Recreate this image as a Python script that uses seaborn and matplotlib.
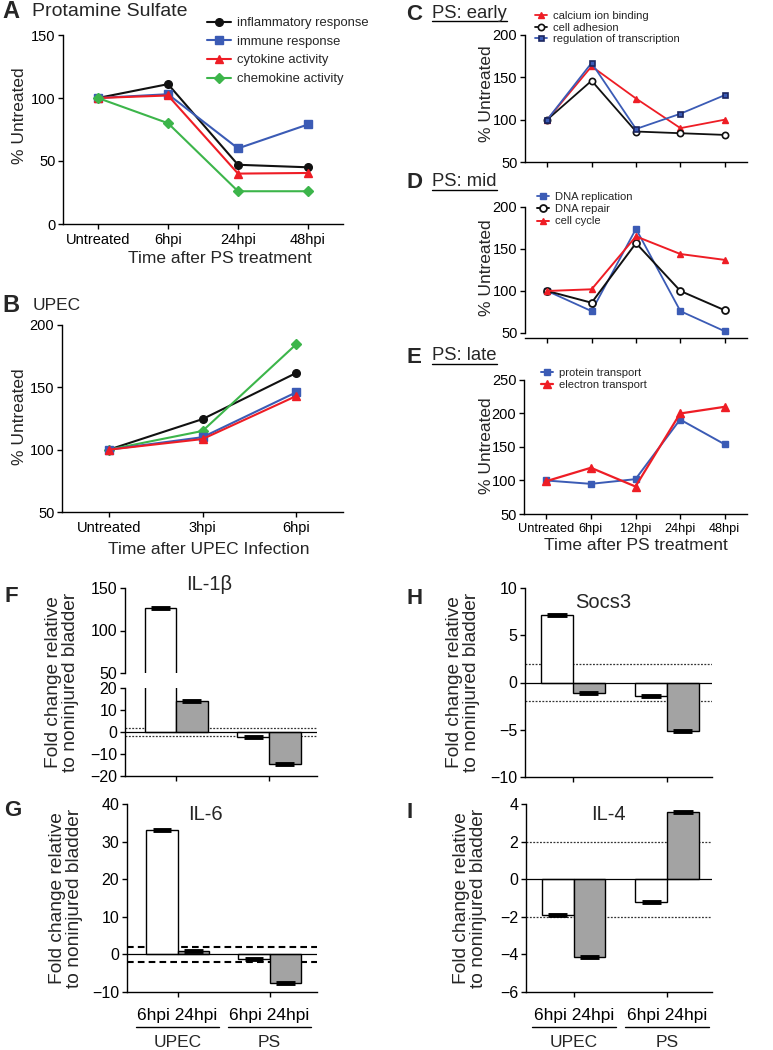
import matplotlib
matplotlib.use("Agg")
import matplotlib.pyplot as plt
from matplotlib.lines import Line2D
import seaborn as sns
import pandas as pd
import numpy as np

sns.set_theme(style="ticks")
plt.rcParams["font.family"] = ["Liberation Sans", "DejaVu Sans"]
plt.rcParams["axes.linewidth"] = 1.0
plt.rcParams["xtick.major.width"] = 1.0
plt.rcParams["ytick.major.width"] = 1.0
plt.rcParams["xtick.major.size"] = 3.5
plt.rcParams["ytick.major.size"] = 3.5
plt.rcParams["axes.edgecolor"] = "black"
plt.rcParams["xtick.color"] = "black"
plt.rcParams["ytick.color"] = "black"

# ---- data -------------------------------------------------------------
ps_times = ["Untreated", "6hpi", "24hpi", "48hpi"]
upec_times = ["Untreated", "3hpi", "6hpi"]
ps5_times = ["Untreated", "6hpi", "12hpi", "24hpi", "48hpi"]

inflam_ps = [100, 111, 47, 45]
immune_ps = [100, 103, 60, 79]
cytokine_ps = [100, 102, 40, 40.5]
chemokine_ps = [100, 80, 26, 26]

inflam_upec = [100, 124.5, 161.5]
immune_upec = [100, 110, 146]
cytokine_upec = [100, 108.5, 143]
chemokine_upec = [100, 115, 184.5]

calcium = [100, 163, 125, 90, 100]
adhesion = [100, 146, 86, 84, 82]
transcription = [100, 167, 89, 107, 129]

dna_rep = [100, 76, 174, 76, 52]
dna_repair = [100, 86, 157, 100, 77]
cell_cycle = [100, 102, 165, 144, 137]

protein_tr = [100, 95, 102, 191, 154]
electron_tr = [99, 119, 91, 200, 210]

groups = ["UPEC", "PS"]
hpi = ["6hpi", "24hpi"]
# order: UPEC 6hpi, UPEC 24hpi, PS 6hpi, PS 24hpi
il1b = [127, 14.2, -2.4, -14.5]
il6 = [33.2, 0.9, -1.2, -7.7]
socs3 = [7.1, -1.1, -1.45, -5.1]
il4 = [-1.9, -4.15, -1.23, 3.6]

BLACK, BLUE, RED, GREEN = "#111111", "#3b5bb5", "#ee1d25", "#3cb54a"
NAVY = "#1b2660"
GREY = "#a3a3a3"

W, H = 773, 1050
fig = plt.figure(figsize=(W / 100, H / 100), dpi=100)


def box(x0, y0, x1, y1):
    return [x0 / W, 1 - y1 / H, (x1 - x0) / W, (y1 - y0) / H]


def ftext(x, y, s, size, **kw):
    kw.setdefault("va", "center")
    return fig.text(x / W, 1 - y / H, s, fontsize=size, **kw)


def series(ax, ys, color, marker, ms, label, lw=1.5, mfc=None, mec=None, mew=1.0):
    sns.lineplot(x=np.arange(len(ys)), y=ys, ax=ax, color=color, marker=marker,
                 markersize=ms, linewidth=lw, markerfacecolor=mfc or color,
                 markeredgecolor=mec or color, markeredgewidth=mew,
                 label=label, legend=False, errorbar=None, zorder=3)


def line_axes(ax, labels, show_labels, ylim, yticks, xsize=10.5):
    ax.set_xlim(-0.5, len(labels) - 0.5)
    ax.set_ylim(*ylim)
    ax.set_yticks(yticks)
    ax.set_xticks(range(len(labels)))
    ax.set_xticklabels(labels if show_labels else [])
    ax.set_xlabel("")
    ax.set_ylabel("")
    ax.tick_params(axis="y", labelsize=10.5, pad=2)
    ax.tick_params(axis="x", labelsize=xsize, pad=3)
    sns.despine(ax=ax)


def legend(ax, x, y, size, hl, spacing):
    ax.legend(loc="upper left", bbox_to_anchor=(x / W, 1 - y / H),
              bbox_transform=fig.transFigure, frameon=False, fontsize=size,
              handlelength=hl, handletextpad=0.5, labelspacing=spacing,
              borderpad=0, borderaxespad=0)


# ---- A: protamine sulfate --------------------------------------------
ax_a = fig.add_axes(box(63, 35, 343, 224))
series(ax_a, inflam_ps, BLACK, "o", 5.5, "inflammatory response")
series(ax_a, immune_ps, BLUE, "s", 5.5, "immune response")
series(ax_a, cytokine_ps, RED, "^", 6, "cytokine activity")
series(ax_a, chemokine_ps, GREEN, "D", 5, "chemokine activity")
line_axes(ax_a, ps_times, True, (0, 150), [0, 50, 100, 150])
legend(ax_a, 207, 17, 9.4, 1.8, 0.5)

# ---- B: UPEC -----------------------------------------------------------
ax_b = fig.add_axes(box(62, 325, 343, 512))
series(ax_b, inflam_upec, BLACK, "o", 5.5, None)
series(ax_b, chemokine_upec, GREEN, "D", 5, None)
series(ax_b, immune_upec, BLUE, "s", 5.5, None)
series(ax_b, cytokine_upec, RED, "^", 6, None)
line_axes(ax_b, upec_times, True, (50, 200), [50, 100, 150, 200])

# ---- C: PS early ------------------------------------------------------
ax_c = fig.add_axes(box(525, 35, 747, 162))
series(ax_c, calcium, RED, "^", 4, "calcium ion binding", lw=1.3)
series(ax_c, adhesion, BLACK, "o", 4.5, "cell adhesion", lw=1.3, mfc="white", mew=1.2)
series(ax_c, transcription, BLUE, "s", 3.6, "regulation of transcription", lw=1.3,
       mfc=BLUE, mec=NAVY, mew=1.2)
line_axes(ax_c, ps5_times, False, (50, 200), [50, 100, 150, 200])
legend(ax_c, 535, 11, 8.1, 1.1, 0.15)

# ---- D: PS mid --------------------------------------------------------
ax_d = fig.add_axes(box(525, 207, 747, 338))
series(ax_d, dna_rep, BLUE, "s", 4, "DNA replication", lw=1.3)
series(ax_d, dna_repair, BLACK, "o", 5, "DNA repair", lw=1.4, mfc="white", mew=1.3)
series(ax_d, cell_cycle, RED, "^", 4, "cell cycle", lw=1.4)
line_axes(ax_d, ps5_times, False, (44, 200), [50, 100, 150, 200])
ax_d.spines["left"].set_bounds(50, 200)
legend(ax_d, 537, 192, 8.1, 1.1, 0.2)

# ---- E: PS late -------------------------------------------------------
ax_e = fig.add_axes(box(524, 380, 747, 514))
series(ax_e, protein_tr, BLUE, "s", 4, "protein transport", lw=1.4)
series(ax_e, electron_tr, RED, "^", 6, "electron transport", lw=1.6)
line_axes(ax_e, ps5_times, True, (50, 250), [50, 100, 150, 200, 250], xsize=9.2)
legend(ax_e, 541, 368, 8.1, 1.1, 0.2)

# ---- bar panels -------------------------------------------------------
bar_df = lambda vals: pd.DataFrame({"group": np.repeat(groups, len(hpi)),
                                    "time": hpi * len(groups), "fold": vals})


def bars(ax, vals, ylim, yticks, xlim, guide=None, zero=True):
    sns.barplot(data=bar_df(vals), x="group", y="fold", hue="time",
                palette=["white", GREY], width=0.68, edgecolor="black",
                linewidth=1.0, errorbar=None, legend=False, ax=ax, zorder=2)
    for p in ax.patches:
        end = p.get_y() + p.get_height()
        ax.hlines(end, p.get_x() + 0.2 * p.get_width(), p.get_x() + 0.8 * p.get_width(),
                  color="black", linewidth=3.5, zorder=4)
    if zero:
        ax.axhline(0, color="black", linewidth=0.9, zorder=3)
    if guide == "dot":
        for v in (2, -2):
            ax.axhline(v, color="#333333", linewidth=0.9, ls=(0, (1.5, 1.2)), zorder=1)
    elif guide == "dash":
        for v in (2, -2):
            ax.axhline(v, color="black", linewidth=1.5, ls=(0, (3.2, 2)), zorder=1)
    ax.set_xlim(*xlim)
    ax.set_ylim(*ylim)
    ax.set_yticks(yticks)
    ax.set_xticks(range(len(groups)))
    ax.set_xticklabels([])
    ax.set_xlabel("")
    ax.set_ylabel("")
    ax.tick_params(axis="y", labelsize=11.5, pad=2)
    sns.despine(ax=ax)


def group_labels(ax):
    ax.set_xticklabels([" ".join(hpi)] * len(groups))
    ax.tick_params(axis="x", labelsize=12.5, pad=8)
    tr = ax.get_xaxis_transform()
    for i, g in enumerate(groups):
        ax.plot([i - 0.45, i + 0.45], [-0.185, -0.185], color="black", lw=1.0,
                transform=tr, clip_on=False)
        ax.text(i, -0.27, g, transform=tr, ha="center", va="center", fontsize=12.5)


xl_left = (-0.55, 1.516)
xl_right = (-0.51, 1.48)

# F: IL-1b, broken axis
ax_f1 = fig.add_axes(box(125, 588, 317, 673))
bars(ax_f1, il1b, (50, 150), [50, 100, 150], xl_left, zero=False)
ax_f1.spines["bottom"].set_visible(False)
ax_f1.tick_params(axis="x", bottom=False)
ax_f2 = fig.add_axes(box(125, 688, 317, 776))
bars(ax_f2, il1b, (-20, 20), [-20, -10, 0, 10, 20], xl_left, guide="dot")

# G: IL-6
ax_g = fig.add_axes(box(127, 804, 317, 992))
bars(ax_g, il6, (-10, 40), [-10, 0, 10, 20, 30, 40], xl_left, guide="dash")
group_labels(ax_g)

# H: Socs3
ax_h = fig.add_axes(box(525, 588, 712, 777))
bars(ax_h, socs3, (-10, 10), [-10, -5, 0, 5, 10], xl_right, guide="dot")

# I: IL-4
ax_i = fig.add_axes(box(526, 804, 712, 992))
bars(ax_i, il4, (-6, 4), [-6, -4, -2, 0, 2, 4], xl_right, guide="dot")
group_labels(ax_i)

# ---- texts ------------------------------------------------------------
bold = dict(fontweight="bold")
ftext(2, 12, "A", 17, **bold)
ftext(32, 11, "Protamine Sulfate", 14)
ftext(2, 305, "B", 17, **bold)
ftext(33, 305, "UPEC", 12.5)
ftext(406, 14, "C", 16, **bold)
ftext(406, 183, "D", 16, **bold)
ftext(406, 357, "E", 16, **bold)
under = [ftext(432, 13, "PS: early", 13.3), ftext(432, 182, "PS: mid", 13.3),
         ftext(432, 356, "PS: late", 13.3)]

ftext(4, 597, "F", 16, **bold)
ftext(4, 810, "G", 16, **bold)
ftext(406, 598, "H", 16, **bold)
ftext(407, 813, "I", 16, **bold)

ftext(209, 585, "IL-1\u03b2", 14.5, ha="center")
ftext(205, 815, "IL-6", 14.5, ha="center")
ftext(603, 602, "Socs3", 14.5, ha="center")
ftext(608, 814, "IL-4", 14.5, ha="center")

ylab = "% Untreated"
for x, y in [(20, 116), (20, 417), (486, 94), (486, 268), (486, 446)]:
    ftext(x, y, ylab, 12.5, rotation=90, ha="center")
fold = "Fold change relative\nto noninjured bladder"
for x, y in [(62, 682), (66, 898), (463, 682), (470, 898)]:
    ftext(x, y, fold, 13.8, rotation=90, ha="center", linespacing=0.98,
          multialignment="center")

ftext(220, 258, "Time after PS treatment", 12.5, ha="center")
ftext(209, 549, "Time after UPEC Infection", 12.5, ha="center")
ftext(636, 546, "Time after PS treatment", 12.5, ha="center")

fig.canvas.draw()
for t in under:
    bb = t.get_window_extent()
    fig.add_artist(Line2D([bb.x0 / W, bb.x1 / W], [(bb.y0 + 1) / H] * 2,
                          color="black", lw=1.0, transform=fig.transFigure))

fig.savefig("out.png", dpi=100)
